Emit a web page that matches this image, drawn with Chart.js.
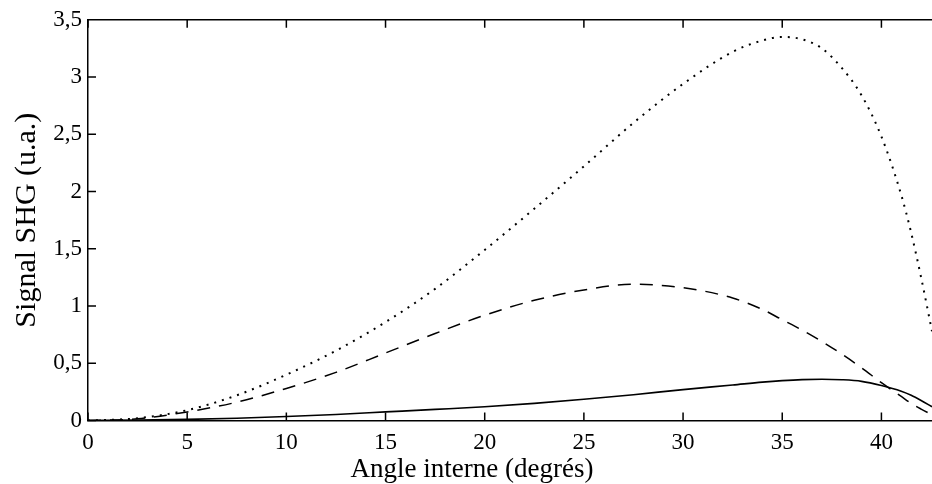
<!DOCTYPE html>
<html><head><meta charset="utf-8">
<script src="https://cdn.jsdelivr.net/npm/chart.js@4/dist/chart.umd.min.js"></script>
<style>html,body{margin:0;padding:0;background:#fff}canvas{display:block}</style>
</head><body>
<canvas id="c" width="932" height="484"></canvas>
<script>
const angles = [0, 2.5, 5, 7.5, 10, 12.5, 15, 17.5, 20, 22.5, 25, 27.5, 30, 32.5, 34, 35, 36, 37, 38, 39, 40, 41, 41.5, 42, 42.55];
const dottedSeries = [0, 0.02, 0.09, 0.22, 0.40, 0.61, 0.86, 1.15, 1.49, 1.85, 2.22, 2.60, 2.94, 3.22, 3.32, 3.35, 3.33, 3.25, 3.08, 2.84, 2.48, 1.97, 1.64, 1.25, 0.78];
const dashedSeries = [0, 0.015, 0.075, 0.16, 0.28, 0.42, 0.59, 0.76, 0.92, 1.05, 1.14, 1.19, 1.16, 1.07, 0.97, 0.88, 0.79, 0.69, 0.58, 0.46, 0.33, 0.21, 0.15, 0.10, 0.05];
const solidSeries = [0, 0.003, 0.01, 0.02, 0.035, 0.053, 0.075, 0.097, 0.12, 0.15, 0.185, 0.225, 0.27, 0.31, 0.335, 0.348, 0.357, 0.36, 0.356, 0.342, 0.305, 0.255, 0.22, 0.175, 0.12];
const xTitle = 'Angle interne (degrés)';
const yTitle = 'Signal SHG (u.a.)';

const FONT = "'Liberation Serif', 'Times New Roman', serif";
const pts = arr => arr.map((v, i) => ({x: angles[i], y: v}));
const fmt = v => String(v).replace('.', ',');

const frame = {
  id: 'frame',
  afterDraw(chart) {
    const {ctx, chartArea: {left, right, top, bottom}, scales: {x, y}} = chart;
    ctx.save();
    ctx.strokeStyle = '#000';
    ctx.lineWidth = 1.5;
    ctx.beginPath();
    ctx.moveTo(left, top); ctx.lineTo(right, top);
    x.ticks.forEach(t => {
      const px = x.getPixelForValue(t.value);
      ctx.moveTo(px, bottom); ctx.lineTo(px, bottom - 8);
      ctx.moveTo(px, top); ctx.lineTo(px, top + 8);
    });
    y.ticks.forEach(t => {
      const py = y.getPixelForValue(t.value);
      ctx.moveTo(left, py); ctx.lineTo(left + 8, py);
    });
    ctx.stroke();
    ctx.fillStyle = '#000';
    ctx.font = "27px " + FONT;
    ctx.textAlign = 'center';
    ctx.textBaseline = 'alphabetic';
    ctx.fillText(xTitle, 472, 477);
    ctx.restore();
  }
};

new Chart(document.getElementById('c'), {
  type: 'line',
  data: {
    datasets: [
      {data: pts(dottedSeries), borderColor: '#000', borderWidth: 2, borderDash: [2, 6], borderCapStyle: 'butt', pointRadius: 0, cubicInterpolationMode: 'monotone', fill: false},
      {data: pts(dashedSeries), borderColor: '#000', borderWidth: 1.5, borderDash: [13, 9], pointRadius: 0, cubicInterpolationMode: 'monotone', fill: false},
      {data: pts(solidSeries), borderColor: '#000', borderWidth: 1.6, pointRadius: 0, cubicInterpolationMode: 'monotone', fill: false}
    ]
  },
  options: {
    responsive: false,
    animation: false,
    events: [],
    layout: {padding: {top: 17, right: 0, left: 0, bottom: 0}},
    plugins: {legend: {display: false}, tooltip: {enabled: false}},
    scales: {
      x: {
        type: 'linear', min: 0, max: 42.55,
        grid: {display: false, drawTicks: false},
        border: {display: true, color: '#000', width: 1.5},
        ticks: {stepSize: 5, includeBounds: false, color: '#000', padding: 9, maxRotation: 0,
                font: {family: FONT, size: 23}, callback: v => fmt(v)},
        afterFit: s => { s.height = 63.5; }
      },
      y: {
        min: 0, max: 3.5,
        grid: {display: false, drawTicks: false},
        border: {display: true, color: '#000', width: 1.5},
        ticks: {stepSize: 0.5, color: '#000', padding: 6,
                font: {family: FONT, size: 23}, callback: v => fmt(v)},
        title: {display: true, text: yTitle, color: '#000', font: {family: FONT, size: 30}, padding: {top: 9, bottom: 0}},
        afterFit: s => { s.width = 88; }
      }
    }
  },
  plugins: [frame]
});
</script>
</body></html>
